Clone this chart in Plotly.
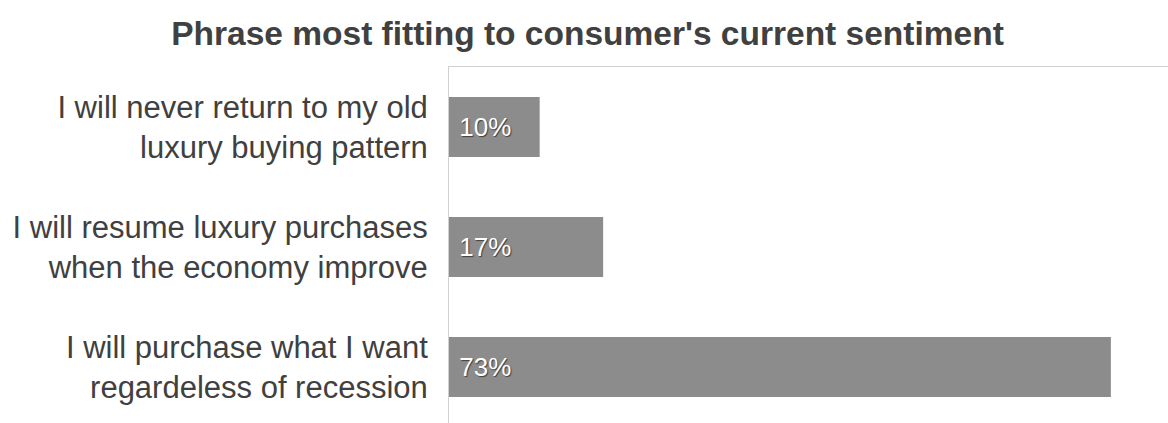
import plotly.graph_objects as go

categories = [
    "I will never return to my old<br>luxury buying pattern",
    "I will resume luxury purchases<br>when the economy improve",
    "I will purchase what I want<br>regardeless of recession",
]
values = [10, 17, 73]
labels = ["10%", "17%", "73%"]

FONT = "Arial, Liberation Sans, sans-serif"

fig = go.Figure(
    go.Bar(
        y=categories,
        x=values,
        orientation="h",
        width=0.5,
        marker=dict(color="#8c8c8c", line=dict(width=0)),
        text=["\u00a0" + t for t in labels],
        textposition="inside",
        insidetextanchor="start",
        textfont=dict(family=FONT, size=26, color="white",
                      shadow="1px 1px 1px #404040"),
        hoverinfo="skip",
    )
)

fig.update_layout(
    width=1168,
    height=423,
    margin=dict(l=449, r=0, t=67, b=0),
    paper_bgcolor="white",
    plot_bgcolor="white",
    showlegend=False,
    title=dict(
        text="<b>Phrase most fitting to consumer's current sentiment</b>",
        x=0.503,
        xanchor="center",
        y=1 - 33 / 423,
        yanchor="middle",
        font=dict(family=FONT, size=33.5, color="#404040"),
    ),
    xaxis=dict(
        range=[0, 79.3],
        side="top",
        showline=True,
        linecolor="#d0d0d0",
        linewidth=1,
        showgrid=False,
        zeroline=False,
        showticklabels=False,
        ticks="",
    ),
    yaxis=dict(
        type="category",
        range=[2.467, -0.5],
        showline=True,
        linecolor="#d0d0d0",
        linewidth=1,
        showgrid=False,
        zeroline=False,
        ticks="",
        ticklabelstandoff=14,
        tickfont=dict(family=FONT, size=31, color="#404040"),
    ),
)

fig.write_html("out.html")
